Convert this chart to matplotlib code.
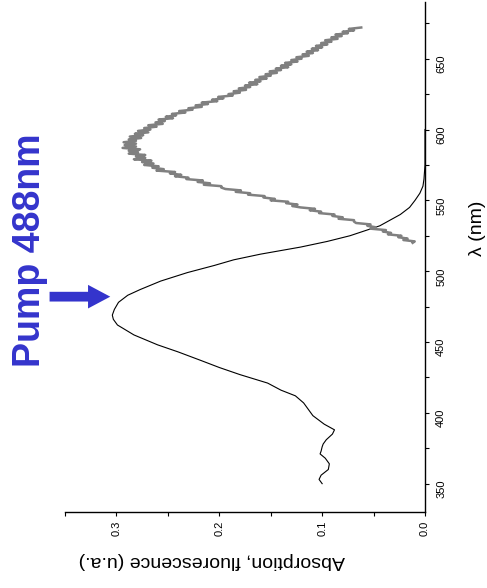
import matplotlib
matplotlib.use("Agg")
import matplotlib.pyplot as plt
from matplotlib.ticker import MultipleLocator

plt.rcParams['font.family'] = ['Liberation Sans', 'DejaVu Sans']

# absorption spectrum (black)
abs_wl = [350, 353, 356, 360, 364, 368, 371, 373, 376, 378, 381, 385, 388, 392,
          398, 403, 407, 412, 416, 421, 427, 432, 437, 443, 448, 455, 462, 466,
          469, 473, 478, 483, 487, 493, 499, 504, 508, 512, 517, 521, 525, 532,
          540, 545, 550, 555, 560, 565, 575, 590, 600]
abs_val = [0.100, 0.103, 0.101, 0.094, 0.093, 0.097, 0.102, 0.101, 0.100, 0.099,
           0.096, 0.090, 0.088, 0.098, 0.109, 0.114, 0.118, 0.126, 0.140, 0.153,
           0.180, 0.200, 0.218, 0.240, 0.260, 0.283, 0.299, 0.303, 0.304, 0.302,
           0.298, 0.289, 0.277, 0.257, 0.231, 0.205, 0.186, 0.160, 0.121, 0.095,
           0.073, 0.044, 0.024, 0.015, 0.0097, 0.005, 0.002, 0.001, 0.0, 0.0, 0.0]

# fluorescence spectrum (grey, noisy), one reading per nm from 520 to 672 nm
fluo_wl = list(range(520, 673))
fluo_val = [0.012, 0.010, 0.021, 0.017, 0.026, 0.023, 0.036, 0.033, 0.041, 0.038,
            0.053, 0.048, 0.056, 0.053, 0.067, 0.069, 0.069, 0.084, 0.080, 0.090,
            0.088, 0.103, 0.101, 0.112, 0.107, 0.121, 0.129, 0.124, 0.135, 0.133,
            0.150, 0.146, 0.157, 0.156, 0.172, 0.170, 0.184, 0.179, 0.194, 0.198,
            0.198, 0.215, 0.209, 0.221, 0.216, 0.232, 0.230, 0.243, 0.237, 0.248,
            0.243, 0.261, 0.254, 0.265, 0.259, 0.273, 0.264, 0.275, 0.266, 0.283,
            0.272, 0.281, 0.272, 0.288, 0.279, 0.288, 0.277, 0.294, 0.281, 0.292,
            0.281, 0.293, 0.281, 0.288, 0.276, 0.287, 0.274, 0.282, 0.269, 0.279,
            0.267, 0.273, 0.261, 0.269, 0.255, 0.262, 0.253, 0.259, 0.245, 0.252,
            0.242, 0.246, 0.233, 0.239, 0.226, 0.230, 0.217, 0.223, 0.211, 0.217,
            0.202, 0.207, 0.196, 0.201, 0.187, 0.191, 0.180, 0.186, 0.174, 0.181,
            0.170, 0.175, 0.163, 0.171, 0.160, 0.165, 0.154, 0.161, 0.150, 0.155,
            0.144, 0.151, 0.140, 0.145, 0.133, 0.140, 0.130, 0.136, 0.124, 0.130,
            0.120, 0.125, 0.113, 0.119, 0.109, 0.115, 0.104, 0.110, 0.100, 0.106,
            0.095, 0.101, 0.091, 0.097, 0.085, 0.091, 0.081, 0.087, 0.075, 0.080,
            0.069, 0.074, 0.062]

pump_wl = 482  # where the arrow is drawn on the reference

fig = plt.figure(figsize=(4.87, 5.88), dpi=100)
ax = fig.add_axes([65 / 487, 1 - 512 / 588, 360 / 487, 510 / 588])

# chart is drawn rotated: wavelength runs up, intensity runs left
ax.plot(abs_val, abs_wl, color='black', lw=0.8)
ax.plot(fluo_val, fluo_wl, color='#808080', lw=1.8)

ax.set_xlim(0.35, 0.0)
ax.set_ylim(330, 690)

for s in ['left', 'top']:
    ax.spines[s].set_visible(False)
for s in ['right', 'bottom']:
    ax.spines[s].set_linewidth(1.0)

ax.yaxis.tick_right()
ax.xaxis.set_major_locator(MultipleLocator(0.1))
ax.xaxis.set_minor_locator(MultipleLocator(0.05))
ax.yaxis.set_major_locator(MultipleLocator(50))
ax.yaxis.set_minor_locator(MultipleLocator(25))
ax.xaxis.set_major_formatter(lambda v, p: f"{v:.1f}")
ax.tick_params(axis='both', which='both', direction='out', length=3, width=0.8)
ax.tick_params(axis='y', labelsize=8, labelrotation=90, pad=5)
ax.tick_params(axis='x', labelsize=8, labelrotation=90, pad=3)

fig.text(477 / 487, 1 - 228 / 588, "λ (nm)", rotation=90, fontsize=14,
         ha='center', va='center')
fig.text(212 / 487, 1 - 560 / 588, "Absorption, fluorescence (u.a.)", rotation=180,
         fontsize=14, ha='center', va='center')

blue = '#3434cc'
fig.text(30 / 487, 1 - 250 / 588, "Pump 488nm", rotation=90, fontsize=27,
         fontweight='bold', color=blue, ha='center', va='center')
ax.annotate('', xy=(0.306, pump_wl), xytext=(0.365, pump_wl),
            arrowprops=dict(facecolor=blue, edgecolor='none', width=7,
                            headwidth=17, headlength=16, shrink=0),
            annotation_clip=False)

fig.savefig("out.png", dpi=100)
